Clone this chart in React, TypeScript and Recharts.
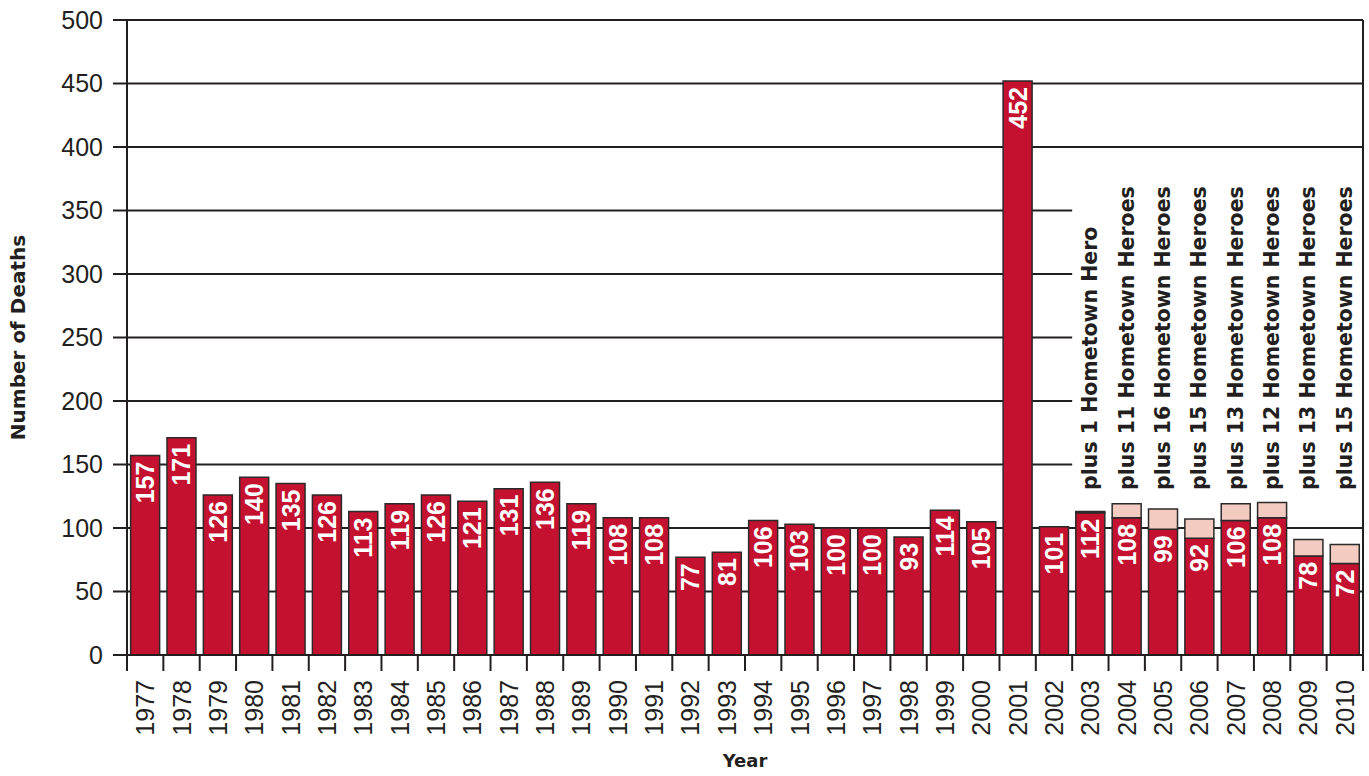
import React from 'react';
import {
  BarChart,
  Bar,
  XAxis,
  YAxis,
  CartesianGrid,
  LabelList,
  ReferenceArea,
  ReferenceDot,
  Label,
} from 'recharts';

const years = [
  '1977', '1978', '1979', '1980', '1981', '1982', '1983', '1984', '1985', '1986',
  '1987', '1988', '1989', '1990', '1991', '1992', '1993', '1994', '1995', '1996',
  '1997', '1998', '1999', '2000', '2001', '2002', '2003', '2004', '2005', '2006',
  '2007', '2008', '2009', '2010',
];

const deaths = [
  157, 171, 126, 140, 135, 126, 113, 119, 126, 121,
  131, 136, 119, 108, 108, 77, 81, 106, 103, 100,
  100, 93, 114, 105, 452, 101, 112, 108, 99, 92,
  106, 108, 78, 72,
];

const heroYears = ['2003', '2004', '2005', '2006', '2007', '2008', '2009', '2010'];
const heroCounts = [1, 11, 16, 15, 13, 12, 13, 15];

const yTicks = [0, 50, 100, 150, 200, 250, 300, 350, 400, 450, 500];
const edgeTicks = years.map((_, i) => i).concat([years.length]);

const heroLabel = (n: number) =>
  n === 1 ? `plus ${n} Hometown Hero` : `plus ${n} Hometown Heroes`;

const data = years.map((year, i) => {
  const hi = heroYears.indexOf(year);
  return {
    year,
    idx: i,
    deaths: deaths[i],
    heroes: hi >= 0 ? heroCounts[hi] : null,
  };
});

const INK = '#231f20';
const RED = '#c3112f';
const PINK = '#f3cbc0';
const NUM_FONT = '"Liberation Sans", Arial, sans-serif';
const BOLD_FONT = '"DejaVu Sans", "Liberation Sans", sans-serif';

const HERO_TEXT_BASE = 130;
const WHITE_TOP = 385;

const EmptyTick = () => <g />;

const YearTick = (props: any) => {
  const { x, y, payload } = props;
  return (
    <text
      x={x}
      y={y}
      transform={`rotate(-90, ${x}, ${y})`}
      textAnchor="end"
      dominantBaseline="central"
      fontFamily={NUM_FONT}
      fontSize={25}
      fill={INK}
    >
      {payload.value}
    </text>
  );
};

const BarValueLabel = (props: any) => {
  const { x, y, width, value } = props;
  if (value == null) return null;
  const cx = x + width / 2;
  const ty = y + 6;
  return (
    <text
      x={cx}
      y={ty}
      transform={`rotate(-90, ${cx}, ${ty})`}
      textAnchor="end"
      dominantBaseline="central"
      fontFamily={NUM_FONT}
      fontWeight="bold"
      fontSize={25}
      fill="#ffffff"
    >
      {value}
    </text>
  );
};

const HeroText = (text: string) => (props: any) => {
  const { cx, cy } = props;
  return (
    <text
      x={cx}
      y={cy}
      transform={`rotate(-90, ${cx}, ${cy})`}
      textAnchor="start"
      dominantBaseline="central"
      fontFamily={BOLD_FONT}
      fontWeight="bold"
      fontSize={20.5}
      fill={INK}
    >
      {text}
    </text>
  );
};

const YTitle = (props: any) => {
  const vb = props.viewBox || { x: 0, y: 0, width: 0, height: 0 };
  const cx = vb.x + 18;
  const cy = vb.y + vb.height / 2;
  return (
    <text
      x={cx}
      y={cy}
      transform={`rotate(-90, ${cx}, ${cy})`}
      textAnchor="middle"
      dominantBaseline="central"
      fontFamily={BOLD_FONT}
      fontWeight="bold"
      fontSize={20}
      fill={INK}
    >
      Number of Deaths
    </text>
  );
};

export default function App() {
  return (
    <div style={{ position: 'absolute', left: 0, top: 0, width: 1369, height: 776, overflow: 'hidden', background: '#fff' }}>
      <BarChart
        width={1369}
        height={776}
        data={data}
        margin={{ top: 20, right: 6, left: 0, bottom: 0 }}
        barCategoryGap="10%"
      >
        <CartesianGrid xAxisId="b_year" yAxisId="left" vertical={false} stroke={INK} strokeWidth={2} strokeOpacity={1} />
        <XAxis
          xAxisId="a_edge"
          dataKey="idx"
          type="number"
          domain={[0, years.length]}
          allowDataOverflow
          ticks={edgeTicks}
          interval={0}
          height={1}
          tick={<EmptyTick />}
          tickSize={16}
          tickLine={{ stroke: INK, strokeWidth: 2 }}
          axisLine={{ stroke: INK, strokeWidth: 2 }}
        />
        <XAxis
          xAxisId="b_year"
          dataKey="year"
          interval={0}
          height={120}
          tick={<YearTick />}
          tickLine={false}
          tickSize={15}
          tickMargin={9}
          axisLine={false}
        >
          <Label
            value="Year"
            position="insideBottom"
            offset={9}
            fontFamily={BOLD_FONT}
            fontWeight="bold"
            fontSize={18}
            fill={INK}
          />
        </XAxis>
        <YAxis
          yAxisId="left"
          width={127}
          domain={[0, 500]}
          ticks={yTicks}
          interval={0}
          tickSize={14}
          tickMargin={10}
          tick={{ fontFamily: NUM_FONT, fontSize: 25, fill: INK }}
          tickLine={{ stroke: INK, strokeWidth: 2 }}
          axisLine={{ stroke: INK, strokeWidth: 2 }}
          label={<YTitle />}
        />
        <YAxis
          yAxisId="right"
          orientation="right"
          mirror
          width={1}
          domain={[0, 500]}
          ticks={yTicks}
          interval={0}
          tick={<EmptyTick />}
          tickSize={7}
          tickLine={{ stroke: INK, strokeWidth: 2 }}
          axisLine={{ stroke: INK, strokeWidth: 2 }}
        />
        <ReferenceArea
          xAxisId="b_year"
          yAxisId="left"
          x1={heroYears[0]}
          x2={heroYears[heroYears.length - 1]}
          y1={HERO_TEXT_BASE}
          y2={WHITE_TOP}
          fill="#ffffff"
          fillOpacity={1}
          stroke="none"
        />
        <Bar xAxisId="b_year" yAxisId="left" dataKey="deaths" stackId="a" fill={RED} stroke="#2a2a2a" strokeWidth={1.5} isAnimationActive={false}>
          <LabelList dataKey="deaths" content={<BarValueLabel />} />
        </Bar>
        <Bar xAxisId="b_year" yAxisId="left" dataKey="heroes" stackId="a" fill={PINK} stroke="#2a2a2a" strokeWidth={1.5} isAnimationActive={false} />
        {heroYears.map((yr, i) => (
          <ReferenceDot
            key={yr}
            xAxisId="b_year"
            yAxisId="left"
            x={yr}
            y={HERO_TEXT_BASE}
            r={0}
            shape={HeroText(heroLabel(heroCounts[i]))}
          />
        ))}
      </BarChart>
    </div>
  );
}
